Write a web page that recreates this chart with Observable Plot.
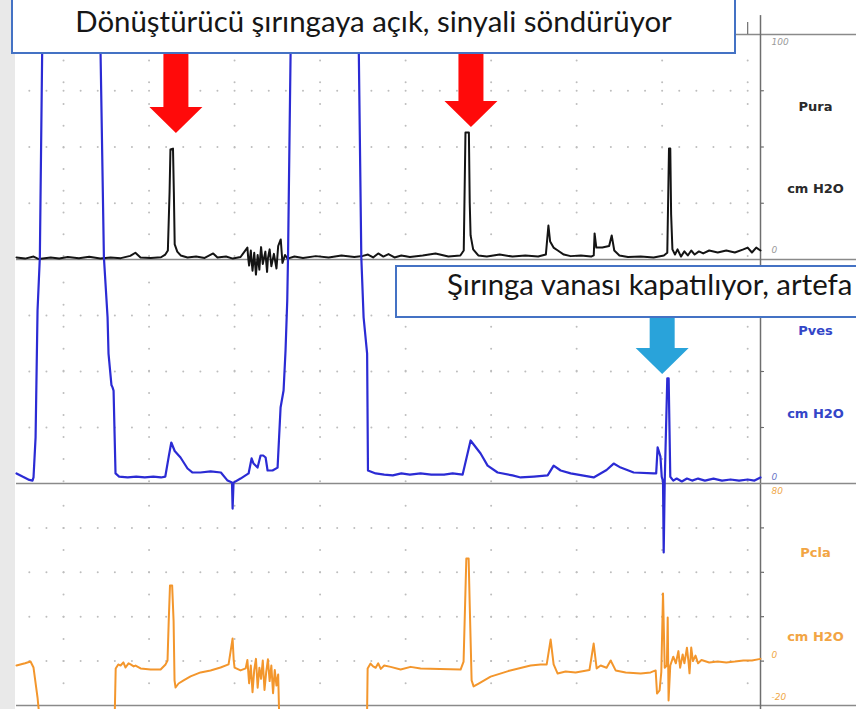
<!DOCTYPE html>
<html>
<head>
<meta charset="utf-8">
<script src="https://cdn.jsdelivr.net/npm/d3@7"></script>
<script src="https://cdn.jsdelivr.net/npm/@observablehq/plot@0.6"></script>
<style>
  html, body { margin: 0; padding: 0; background: #fff; }
  #chart { position: relative; width: 856px; height: 709px; overflow: hidden; background: #fff; }
  #chart svg { position: absolute; left: 0; top: 0; }
  #strip { position: absolute; left: 0; top: 0; width: 15px; height: 709px; background: #e9e9e9; }
</style>
</head>
<body>
<div id="chart"><div id="strip"></div></div>
<script>
// ---------- data (time in s, pressures in cm H2O) ----------
const puraTrace = [
[4.5,0.9],[5.5,0.4],[6.5,1.3],[7.1,0.2],[8.5,0.9],[9.5,0.4],[10.5,1.1],[11.8,0.6],[13.0,1.2],[14.3,0.4],[15.5,0.9],[16.7,0.6],[17.8,1.6],[18.4,3.0],[19.0,0.9],[20.2,0.7],[21.4,1.0],[21.9,2.2],[22.2,4.0],[22.4,30],[22.5,48.9],[22.8,49.3],[22.9,30],[23.0,6.7],[23.3,3.5],[23.7,1.8],[24.5,0.9],[25.5,1.3],[26.5,0.7],[27.5,2.7],[28.0,0.9],[29.0,1.3],[29.8,0.4],[30.7,1.1],[31.5,5.3],[31.6,0.5],[31.7,-2.7],[31.9,4.0],[32.0,-1.0],[32.1,-5.0],[32.3,3.0],[32.4,-2.0],[32.5,-6.7],[32.7,2.0],[32.9,-4.5],[33.0,1.0],[33.1,5.5],[33.3,-2.0],[33.6,3.5],[33.8,-5.5],[33.9,0.5],[34.1,4.5],[34.3,-3.0],[34.6,2.5],[34.9,-4.0],[35.1,6.0],[35.4,8.9],[35.6,-1.5],[35.9,2.0],[36.2,0.4],[37.0,1.3],[38.0,0.7],[39.5,1.5],[41.0,0.9],[42.5,1.8],[44.0,1.1],[45.0,1.6],[45.6,2.2],[46.2,0.9],[46.8,2.7],[47.4,1.3],[48.0,2.4],[48.7,0.9],[49.5,1.8],[50.5,1.1],[52.0,1.8],[53.5,2.7],[55.0,1.3],[56.4,1.8],[56.8,4.0],[57.0,56.4],[57.4,56.4],[57.5,25],[57.6,10.7],[57.9,4.5],[58.5,1.8],[59.5,1.3],[61.0,2.2],[62.5,1.3],[64.0,1.8],[65.5,1.3],[66.4,2.2],[66.7,15.1],[66.9,8.0],[67.3,5.3],[67.8,4.0],[68.5,2.2],[69.3,1.5],[70.5,1.8],[71.7,1.3],[72.0,1.8],[72.1,11.6],[72.3,5.3],[73.0,5.3],[73.8,6.0],[74.1,10.7],[74.4,4.0],[75.0,1.8],[76.0,1.1],[77.5,1.3],[79.0,0.9],[80.2,1.8],[80.6,3.0],[80.8,49.3],[80.95,49.3],[81.05,20],[81.2,4.5],[81.5,2.2],[81.8,4.5],[82.2,1.3],[82.6,3.6],[83.0,1.8],[83.4,4.0],[83.8,2.2],[84.3,3.6],[84.8,2.7],[85.5,4.0],[86.5,3.1],[87.5,4.0],[88.5,3.1],[89.5,4.5],[90.0,5.3],[90.5,3.1],[91.0,5.3],[91.5,4.0]
];
const pvesTrace = [
[4.5,4.5],[5.2,3.1],[6.0,1.6],[6.37,1.3],[6.49,2.7],[6.73,20.5],[6.96,77.2],[7.23,101],[7.5,192],[7.6,235],
[14.2,235],[14.33,192],[14.72,101],[15.15,74.1],[15.26,58.0],[15.6,44],[15.73,42.9],[15.85,41.5],[16.08,4.5],
[16.5,3.1],[17.5,2.7],[18.5,3.1],[19.5,2.7],[20.5,3.1],[21.4,2.7],[21.9,3.1],[22.3,12],[22.6,18.3],[23.0,14.5],[23.68,11.6],[24.5,6.7],[25.09,4.9],[26.0,4.9],[27.2,5.4],[28.4,4.9],[29.18,1.3],[29.7,0.4],[29.77,-11.2],[29.88,0.4],[30.7,2.2],[31.64,4.5],[31.99,11.2],[32.22,8.9],[32.69,7.1],[33.04,12.5],[33.35,12.5],[33.63,11.6],[33.86,5.8],[34.44,5.8],[35.03,7.1],[35.38,33.9],[35.73,41.5],[35.96,59.4],[36.16,81.7],[36.25,101],[36.55,192],[36.7,235],
[44.3,235],[44.53,192],[44.82,101],[45.09,74.1],[45.5,58],[45.6,5.8],
[46.5,4.5],[47.5,4.0],[48.5,3.6],[49.5,4.5],[50.5,4.0],[51.75,4.5],[53.0,4.0],[54.5,4.0],[55.5,4.5],[56.67,4.0],[57.6,19.2],[58.77,13.4],[59.59,8.0],[60.76,4.9],[62.5,3.6],[63.45,2.7],[65.0,3.1],[66.61,3.6],[67.31,8.0],[68.13,5.8],[69.3,4.5],[71.99,2.7],[73.5,6.0],[74.33,8.9],[75.15,7.1],[76.67,4.9],[79.01,4.5],[79.3,4.5],[79.47,16.1],[79.8,12.0],[79.95,3.0],[80.1,1.0],[80.18,-30.8],[80.3,1.0],[80.6,46.9],[80.76,46.9],[80.95,3.0],[81.3,1.3],[81.7,2.2],[82.3,0.9],[82.9,2.2],[83.5,1.3],[84.2,2.2],[85.0,1.3],[86.0,2.2],[87.0,1.3],[88.0,1.8],[89.0,1.3],[90.0,1.8],[90.8,1.3],[91.5,2.7]
];
const pclaTrace = [
[4.5,-2.0],[5.5,-1.0],[6.14,-0.2],[6.49,-2.9],[6.96,-16.4],[7.1,-22],[16.0,-22],[16.1,-3.3],[16.4,-1.5],[16.67,-2.0],[17.0,-0.6],[17.25,-2.9],[17.6,-1.0],[17.84,-1.5],[18.2,-2.4],[18.42,-2.0],[19.01,-3.3],[20.18,-3.8],[21.35,-3.8],[21.93,-1.5],[22.16,0.3],[22.3,18],[22.45,34.1],[22.7,34.1],[22.87,18],[22.98,-8.7],[23.1,-11.9],[23.45,-10.1],[24.04,-8.7],[24.85,-6.9],[26.02,-5.1],[27.19,-4.2],[28.36,-2.9],[29.3,-1.5],[29.77,10.2],[29.9,0.3],[30.0,-2.9],[30.7,-4.2],[31.3,-3.3],[31.5,0.5],[31.7,-10],[31.9,-2],[32.1,-14],[32.3,-4],[32.5,1],[32.7,-12],[32.9,-3],[33.1,-8],[33.3,0.3],[33.5,-13],[33.7,-5],[33.9,0.8],[34.1,-9],[34.3,-2],[34.5,-14.5],[34.7,-4],[34.9,-11],[35.1,-6],[35.2,-22],
[45.5,-22],[45.56,-3.3],[45.9,-1.1],[46.2,-2.4],[46.5,-3.0],[46.8,-1.0],[47.1,-3.5],[47.5,-2.0],[48.25,-2.6],[49.42,-3.8],[50.58,-2.6],[51.75,-3.3],[54.0,-3.6],[56.43,-3.8],[56.78,-0.2],[57.1,46.2],[57.37,46.2],[57.5,25],[57.72,-8.7],[57.95,-11.4],[58.54,-10.1],[59.94,-7.0],[62.0,-4.5],[64.62,-2.0],[65.79,-1.5],[66.5,-1.5],[66.96,9.7],[67.31,-1.5],[67.78,-5.6],[68.71,-4.7],[69.88,-5.1],[71.5,-4.0],[71.99,7.9],[72.34,-3.3],[72.81,-2.0],[73.5,-3.0],[73.98,0.3],[74.56,-4.2],[75.73,-5.1],[77.49,-5.6],[78.65,-5.1],[79.24,-4.2],[79.4,-14.6],[79.7,-13.2],[79.9,-5],[80.1,30.5],[80.3,-3],[80.55,-2],[80.65,19.6],[80.75,-17.7],[80.95,-2],[81.3,2],[81.6,-1],[81.9,4.5],[82.1,-3],[82.4,3],[82.6,-1],[82.9,6],[83.1,-1],[83.2,-5.5],[83.4,6.1],[83.6,0],[83.9,2.5],[84.2,-1],[84.6,0.5],[85.5,-0.6],[86.5,-0.2],[87.5,-0.6],[88.5,-0.2],[89.5,0.3],[90.5,0.3],[91.5,1.0]
];

// channel labels and scale numbers
const puraNames = [{text: "Pura", y: 68}, {text: "cm H2O", y: 31.6}];
const pvesNames = [{text: "Pves", y: 68.3}, {text: "cm H2O", y: 31.3}];
const pclaNames = [{text: "Pcla", y: 48.9}, {text: "cm H2O", y: 11.1}];
const puraNums = [{text: "100", y: 96.4}, {text: "0", y: 4}];
const pvesNums = [{text: "0", y: 2.7}];
const pclaNums = [{text: "80", y: 76.4}, {text: "0", y: 2.5}, {text: "-20", y: -16.4}];

// annotations
const note1 = "Dönüştürücü şırıngaya açık, sinyali söndürüyor";
const note2 = "Şırınga vanası kapatılıyor, artefa";
const arrows = [
  {panel: "pura", t: 23.2, v: 56.0, color: "#ff0a0a", top: 53},
  {panel: "pura", t: 57.7, v: 58.7, color: "#ff0a0a", top: 53},
  {panel: "pves", t: 80.06, v: 48.7, color: "#29a3da", top: 317}
];

// ---------- layout ----------
const W = 856, H = 709, ML = 16, MR = 96;
const xDomain = [4.5, 91.5];
const pxPerT = (W - ML - MR) / (xDomain[1] - xDomain[0]);
const xRight = xDomain[1] + MR / pxPerT;
const gridT = d3.range(10, 91, 10);
const denseT = d3.range(6, 91, 2);
const LABEL_FONT = "'DejaVu Sans', Verdana, sans-serif";
const GRID = "#bdbdbd";

function cross(xs, ys) { return xs.flatMap(x => ys.map(y => ({x, y}))); }

function panel(o) {
  return Plot.plot({
    width: W, height: H,
    marginLeft: ML, marginRight: MR, marginTop: o.top, marginBottom: H - o.bottom,
    x: {domain: xDomain, axis: null},
    y: {domain: o.domain, axis: null},
    style: {background: "transparent", overflow: "visible"},
    marks: [
      Plot.dot(cross(gridT, o.vdots), {x: "x", y: "y", r: 1, fill: GRID}),
      Plot.dot(cross(denseT, o.rows), {x: "x", y: "y", r: 1, fill: GRID}),
      Plot.ruleY(o.lines, {x1: xDomain[0], x2: xRight, stroke: "#8a8a8a", strokeWidth: 1.7}),
      Plot.ruleX([xDomain[1]], {y1: o.axis[0], y2: o.axis[1], stroke: "#6e6e6e", strokeWidth: 1.5}),
      Plot.ruleY(o.rows, {x1: xDomain[1], x2: xDomain[1] + 4 / pxPerT, stroke: "#6e6e6e", strokeWidth: 1.2}),
      ...(o.extra || []),
      Plot.text(o.names, {x: xDomain[1] + 55 / pxPerT, y: "y", text: "text", fill: o.labelColor,
        fontWeight: "bold", fontSize: 13, fontFamily: LABEL_FONT}),
      Plot.text(o.nums, {x: xDomain[1] + 11 / pxPerT, y: "y", text: "text", fill: o.numColor,
        textAnchor: "start", fontStyle: "italic", fontSize: 9, fontFamily: LABEL_FONT}),
      Plot.line(o.trace, {x: d => d[0], y: d => d[1], stroke: o.color, strokeWidth: o.width,
        strokeLinejoin: "round", strokeLinecap: "round"})
    ]
  });
}

const chart = document.getElementById("chart");

const pclaPlot = panel({
  domain: [-20, 80], top: 483, bottom: 705,
  rows: [0, 20, 40, 60], vdots: d3.range(-10, 80, 10),
  lines: [-20], axis: [80, -21.8],
  names: pclaNames, nums: pclaNums, labelColor: "#f2a544", numColor: "#f0a848",
  trace: pclaTrace, color: "#f3962c", width: 2
});
const puraPlot = panel({
  domain: [0, 100], top: 34, bottom: 259,
  rows: [25, 50, 75], vdots: d3.range(88.4, 0, -9.645),
  lines: [100, 0], axis: [108.4, 0],
  extra: [Plot.ruleX([90], {y1: 100, y2: 105.3, stroke: "#6e6e6e", strokeWidth: 1.2})],
  names: puraNames, nums: puraNums, labelColor: "#2a2a2a", numColor: "#9a9a9a",
  trace: puraTrace, color: "#141414", width: 2
});
const pvesPlot = panel({
  domain: [0, 100], top: 259, bottom: 483,
  rows: [25, 50, 75], vdots: d3.range(89.7, 0, -9.85),
  lines: [0], axis: [100, 0],
  names: pvesNames, nums: pvesNums, labelColor: "#3446c8", numColor: "#6a78c8",
  trace: pvesTrace, color: "#2b2bd4", width: 2.2
});

chart.append(pclaPlot, puraPlot, pvesPlot);

// ---------- annotation overlay ----------
const ov = d3.select(chart).append("svg").attr("width", W).attr("height", H);
const scales = {pura: puraPlot, pves: pvesPlot};

for (const a of arrows) {
  const p = scales[a.panel];
  const tx = p.scale("x").apply(a.t), ty = p.scale("y").apply(a.v);
  const sh = 12.5, hh = 26.5, hl = 26;
  const pts = [[tx - sh, a.top], [tx + sh, a.top], [tx + sh, ty - hl], [tx + hh, ty - hl],
               [tx, ty], [tx - hh, ty - hl], [tx - sh, ty - hl]];
  ov.append("polygon").attr("points", pts.map(d => d.join(",")).join(" ")).attr("fill", a.color);
}

const BOX_FONT = "Lato, 'Open Sans', 'DejaVu Sans', sans-serif";
ov.append("rect").attr("x", 12).attr("y", -3).attr("width", 723).attr("height", 56)
  .attr("fill", "#fff").attr("stroke", "#4472c4").attr("stroke-width", 2);
ov.append("rect").attr("x", 396).attr("y", 266).attr("width", 480).attr("height", 51)
  .attr("fill", "#fff").attr("stroke", "#4472c4").attr("stroke-width", 2);

const t1 = ov.append("text").attr("x", 373.5).attr("y", 32).attr("text-anchor", "middle")
  .attr("font-family", BOX_FONT).attr("font-size", 26).attr("fill", "#161616").text(note1);
const len = t1.node().getComputedTextLength();
const fs = len > 0 ? 26 * 597 / len : 26;
t1.attr("font-size", fs);
ov.append("text").attr("x", 447).attr("y", 294.5).attr("text-anchor", "start")
  .attr("font-family", BOX_FONT).attr("font-size", fs).attr("fill", "#161616").text(note2);
</script>
</body>
</html>
